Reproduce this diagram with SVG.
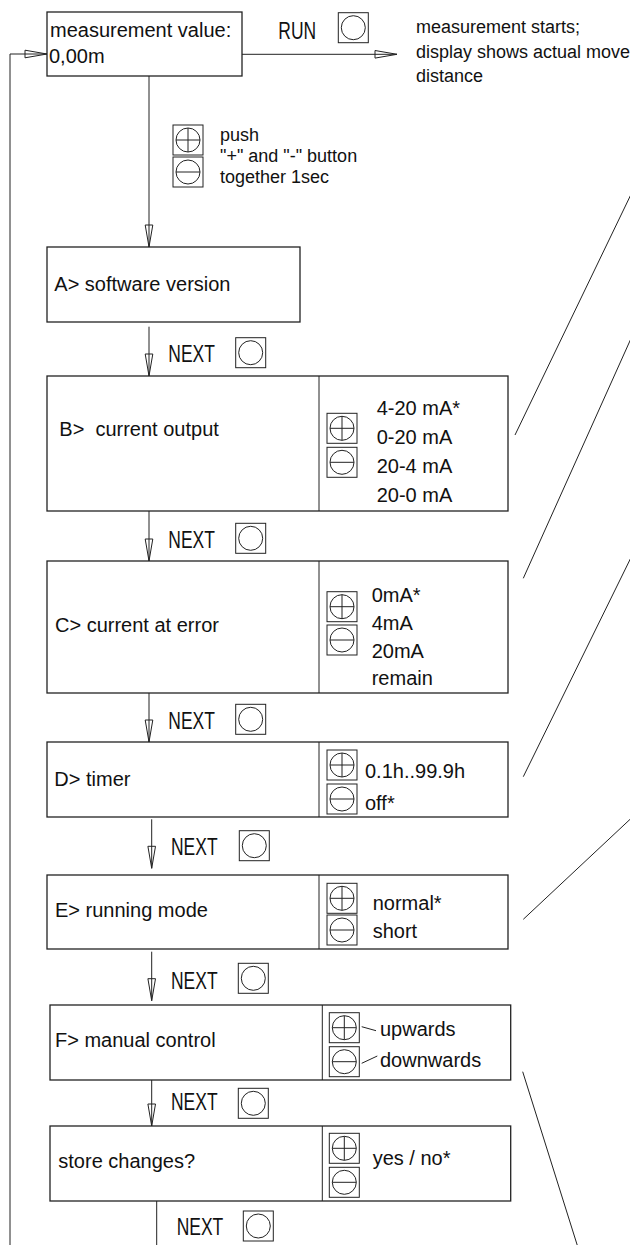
<svg xmlns="http://www.w3.org/2000/svg" xmlns:xlink="http://www.w3.org/1999/xlink" width="630" height="1245" viewBox="0 0 630 1245">
<style>
.box{fill:#fff;stroke:#222;stroke-width:1.3}
.ln{fill:none;stroke:#222;stroke-width:1}
.t{font-family:"Liberation Sans",Arial,sans-serif;font-size:20px;fill:#111}
.s{font-size:18px}
.n{font-size:23px}
.ic{fill:#fff;stroke:#222;stroke-width:1}
.icl{fill:none;stroke:#222;stroke-width:1}
</style>
<defs>
<marker id="ah" markerUnits="userSpaceOnUse" markerWidth="26" markerHeight="12" viewBox="-2 -6 26 12" refX="22" refY="0" orient="auto">
<path d="M0,-3.8 L22,0 L0,3.8 Z" fill="none" stroke="#222" stroke-width="1"/>
</marker>
<g id="plus"><rect class="ic" x="0" y="0" width="30" height="30"/><circle class="icl" cx="15" cy="15" r="12"/><path class="icl" d="M3,15H27M15,3V27"/></g>
<g id="minus"><rect class="ic" x="0" y="0" width="30" height="30"/><circle class="icl" cx="15" cy="15" r="12"/><path class="icl" d="M3,15H27"/></g>
<g id="btn"><rect class="ic" x="0" y="0" width="30" height="30"/><circle class="icl" cx="15" cy="15" r="12"/></g>
</defs>
<rect width="630" height="1245" fill="#fff"/>

<g id="connectors">
<path class="ln" d="M10,1245 V54 H47" marker-end="url(#ah)"/>
<path class="ln" d="M242,54.3 H397" marker-end="url(#ah)"/>
<path class="ln" d="M149,76 V247" marker-end="url(#ah)"/>
<path class="ln" d="M149,326.7 V376" marker-end="url(#ah)"/>
<path class="ln" d="M149,511 V561" marker-end="url(#ah)"/>
<path class="ln" d="M149,693 V742" marker-end="url(#ah)"/>
<path class="ln" d="M151.7,819.3 V868.3" marker-end="url(#ah)"/>
<path class="ln" d="M151.7,951.7 V1000.7" marker-end="url(#ah)"/>
<path class="ln" d="M151.7,1076.7 V1126" marker-end="url(#ah)"/>
<path class="ln" d="M156.7,1201 V1245"/>
<path class="ln" d="M515,435 L632,192.3"/>
<path class="ln" d="M523.3,578.3 L632,336.3"/>
<path class="ln" d="M523.3,776.7 L632,555.5"/>
<path class="ln" d="M523.3,919.3 L632,817.5"/>
<path class="ln" d="M522.7,1071.7 L577.2,1245"/>
</g>

<g id="node-measure">
<rect class="box" x="47" y="12" width="195" height="64"/>
<text class="t" x="50" y="36.5">measurement value:</text>
<text class="t" x="49" y="63">0,00m</text>
</g>

<g id="run">
<text class="t n" transform="translate(278.3,39) scale(0.76,1)">RUN</text>
<use href="#btn" x="338.3" y="12.7"/>
<text class="t s" x="416" y="33">measurement starts;</text>
<text class="t s" x="416" y="57.5">display shows actual move</text>
<text class="t s" x="416" y="82">distance</text>
</g>

<g id="push">
<use href="#plus" x="173" y="125"/>
<use href="#minus" x="173" y="157"/>
<text class="t s" x="220" y="141">push</text>
<text class="t s" x="220" y="162">"+" and "-" button</text>
<text class="t s" x="220" y="183">together 1sec</text>
</g>

<g id="node-a">
<rect class="box" x="47" y="247" width="253" height="75"/>
<text class="t" x="54.3" y="290.5">A&gt; software version</text>
</g>
<g id="next-a">
<text class="t n" transform="translate(168.3,362.3) scale(0.76,1)">NEXT</text>
<use href="#btn" x="235.7" y="337.7"/>
</g>

<g id="node-b">
<rect class="box" x="47" y="376" width="461" height="135"/>
<path class="ln" d="M319,376 V511"/>
<text class="t" x="59.3" y="436" xml:space="preserve" style="white-space:pre">B&gt;  current output</text>
<use href="#plus" x="327" y="413.3"/>
<use href="#minus" x="327" y="447.3"/>
<text class="t" x="376.7" y="415">4-20 mA*</text>
<text class="t" x="376.7" y="444">0-20 mA</text>
<text class="t" x="376.7" y="472.7">20-4 mA</text>
<text class="t" x="376.7" y="501.7">20-0 mA</text>
</g>
<g id="next-b">
<text class="t n" transform="translate(168.3,548.3) scale(0.76,1)">NEXT</text>
<use href="#btn" x="235.7" y="523.3"/>
</g>

<g id="node-c">
<rect class="box" x="47" y="561" width="461" height="132"/>
<path class="ln" d="M319,561 V693"/>
<text class="t" x="55" y="631.7">C&gt; current at error</text>
<use href="#plus" x="327" y="591.7"/>
<use href="#minus" x="327" y="625"/>
<text class="t" x="371.7" y="601.7">0mA*</text>
<text class="t" x="371.7" y="630">4mA</text>
<text class="t" x="371.7" y="658.3">20mA</text>
<text class="t" x="371.7" y="685">remain</text>
</g>
<g id="next-c">
<text class="t n" transform="translate(168.3,729) scale(0.76,1)">NEXT</text>
<use href="#btn" x="235.7" y="704.3"/>
</g>

<g id="node-d">
<rect class="box" x="47" y="742" width="461" height="75"/>
<path class="ln" d="M319,742 V817"/>
<text class="t" x="54.3" y="786">D&gt; timer</text>
<use href="#plus" x="327" y="750"/>
<use href="#minus" x="327" y="784"/>
<text class="t" x="365" y="777.7">0.1h..99.9h</text>
<text class="t" x="365" y="810">off*</text>
</g>
<g id="next-d">
<text class="t n" transform="translate(171,855) scale(0.76,1)">NEXT</text>
<use href="#btn" x="239.3" y="830.7"/>
</g>

<g id="node-e">
<rect class="box" x="47" y="875" width="461" height="74"/>
<path class="ln" d="M319,875 V949"/>
<text class="t" x="55" y="917.3">E&gt; running mode</text>
<use href="#plus" x="327" y="883.3"/>
<use href="#minus" x="327" y="915"/>
<text class="t" x="372.7" y="910">normal*</text>
<text class="t" x="372.7" y="938.3">short</text>
</g>
<g id="next-e">
<text class="t n" transform="translate(171,989.3) scale(0.76,1)">NEXT</text>
<use href="#btn" x="238.3" y="963.3"/>
</g>

<g id="node-f">
<rect class="box" x="50" y="1005" width="460.7" height="75"/>
<path class="ln" d="M322.3,1005 V1080"/>
<text class="t" x="55" y="1047.3">F&gt; manual control</text>
<use href="#plus" x="329.3" y="1012.7"/>
<use href="#minus" x="329.3" y="1046.7"/>
<path class="ln" d="M361.7,1026.7 L376,1030.7 M361.7,1063.3 L377.3,1056"/>
<text class="t" x="380" y="1036">upwards</text>
<text class="t" x="380" y="1066.7">downwards</text>
</g>
<g id="next-f">
<text class="t n" transform="translate(171,1110) scale(0.76,1)">NEXT</text>
<use href="#btn" x="238.3" y="1088.3"/>
</g>

<g id="node-store">
<rect class="box" x="50" y="1126" width="460.7" height="75"/>
<path class="ln" d="M322.3,1126 V1201"/>
<text class="t" x="58.3" y="1168.3">store changes?</text>
<use href="#plus" x="329.3" y="1133.3"/>
<use href="#minus" x="329.3" y="1167.3"/>
<text class="t" x="372.7" y="1165">yes / no*</text>
</g>
<g id="next-store">
<text class="t n" transform="translate(176.7,1235) scale(0.76,1)">NEXT</text>
<use href="#btn" x="243.3" y="1211"/>
</g>
</svg>
